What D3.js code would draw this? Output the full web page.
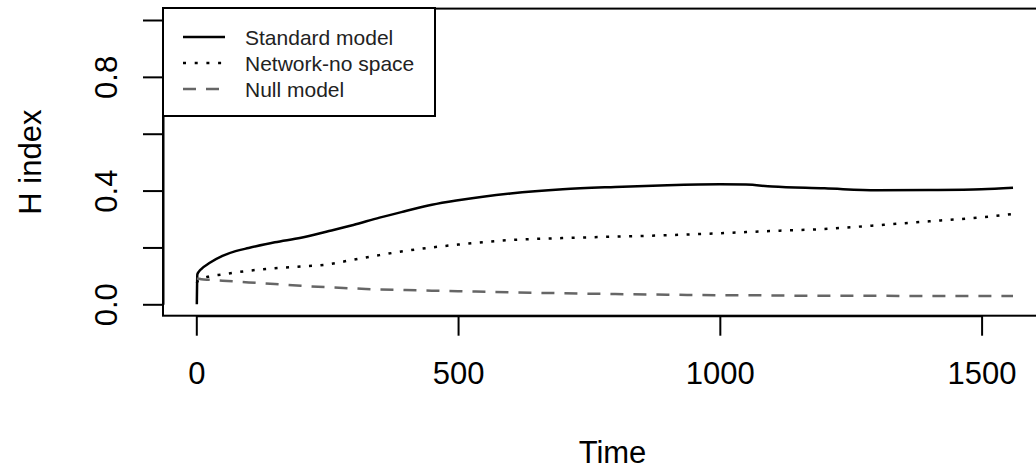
<!DOCTYPE html>
<html>
<head>
<meta charset="utf-8">
<script src="https://cdn.jsdelivr.net/npm/d3@7"></script>
<style>
    body { margin: 0; background: #fff; }
    #vis { width: 1036px; height: 475px; }
</style>
</head>
<body>
<div id="vis"></div>
<script>
// values
var time = [1, 2, 5, 10, 25, 50, 75, 100, 150, 200, 250, 300, 350, 400, 450, 500,
    600, 700, 800, 900, 1000, 1050, 1100, 1200, 1300, 1400, 1500, 1560];
var standard = [0.0, 0.105, 0.115, 0.125, 0.145, 0.170, 0.187, 0.198, 0.218, 0.234, 0.256, 0.279,
    0.305, 0.328, 0.350, 0.366, 0.390, 0.405, 0.413, 0.419, 0.422, 0.421, 0.414, 0.408, 0.401, 0.402, 0.405, 0.410];
var network = [0.075, 0.080, 0.085, 0.090, 0.098, 0.105, 0.112, 0.118, 0.127, 0.133, 0.140, 0.157,
    0.173, 0.188, 0.200, 0.210, 0.226, 0.233, 0.238, 0.243, 0.250, 0.254, 0.258, 0.265, 0.278, 0.292, 0.306, 0.318];
var nullModel = [0.090, 0.090, 0.090, 0.088, 0.086, 0.083, 0.080, 0.077, 0.071, 0.065, 0.060, 0.056,
    0.052, 0.050, 0.048, 0.046, 0.042, 0.039, 0.036, 0.034, 0.032, 0.032, 0.031, 0.030, 0.030, 0.029, 0.029, 0.029];

var seriesNames = ['Standard model', 'Network-no space', 'Null model'];
var xTicks = [0, 500, 1000, 1500];
var yTicks = [0, 0.2, 0.4, 0.6, 0.8, 1.0];
var yTickLabels = ['0.0', '', '0.4', '', '0.8', ''];

var width = document.getElementById('vis').clientWidth;
var height = document.getElementById('vis').clientHeight;

var font = 'Liberation Sans, Arial, Helvetica, sans-serif';

// plot box (right side runs past the picture)
var box = { left: 163, top: 8.6, right: 1062, bottom: 315.7 };

var svg = d3.select('#vis')
    .append('svg')
    .attr('width', width)
    .attr('height', height);

var x_scale = d3.scaleLinear()
    .domain([0, 1500])
    .range([196.3, 981.6]);

var y_scale = d3.scaleLinear()
    .domain([0, 1])
    .range([304.3, 20]);

var styles = [
    { color: '#000', dash: null, width: 2.5 },
    { color: '#000', dash: '3,8.5', width: 2.5 },
    { color: '#666', dash: '13,10', width: 2.5 }
];
var allSeries = [standard, network, nullModel];

var line = d3.line()
    .x(function(d, i) { return x_scale(time[i]); })
    .y(function(d) { return y_scale(d); })
    .curve(d3.curveMonotoneX);

svg.selectAll('.series')
    .data(allSeries)
    .enter()
    .append('path')
    .attr('class', 'series')
    .attr('d', line)
    .attr('fill', 'none')
    .attr('stroke', function(d, i) { return styles[i].color; })
    .attr('stroke-width', function(d, i) { return styles[i].width; })
    .attr('stroke-dasharray', function(d, i) { return styles[i].dash; });

// box
svg.append('rect')
    .attr('x', box.left)
    .attr('y', box.top)
    .attr('width', box.right - box.left)
    .attr('height', box.bottom - box.top)
    .attr('fill', 'none')
    .attr('stroke', '#000')
    .attr('stroke-width', 2);

// axes
var x_axis = d3.axisBottom(x_scale)
    .tickValues(xTicks)
    .tickSize(20)
    .tickSizeOuter(0)
    .tickPadding(26)
    .tickFormat(d3.format('d'));

var y_axis = d3.axisLeft(y_scale)
    .tickValues(yTicks)
    .tickSize(20)
    .tickSizeOuter(0)
    .tickFormat(function(d, i) { return yTickLabels[i]; });

var gx = svg.append('g')
    .attr('transform', 'translate(0,' + box.bottom + ')')
    .call(x_axis);

var gy = svg.append('g')
    .attr('transform', 'translate(' + box.left + ',0)')
    .call(y_axis);

[gx, gy].forEach(function(g) {
    g.attr('font-size', 31).attr('font-family', font);
    g.selectAll('line, path').attr('stroke', '#000').attr('stroke-width', 2);
    g.selectAll('text').attr('fill', '#000');
});

gy.selectAll('text')
    .attr('x', 0)
    .attr('y', -46)
    .attr('dy', 0)
    .attr('transform', 'rotate(-90)')
    .style('text-anchor', 'middle');

// axis titles
svg.append('text')
    .attr('x', (box.left + box.right) / 2)
    .attr('y', 463)
    .attr('text-anchor', 'middle')
    .attr('font-size', 31)
    .attr('font-family', font)
    .text('Time');

svg.append('text')
    .attr('transform', 'translate(41,' + (box.top + box.bottom) / 2 + ') rotate(-90)')
    .attr('text-anchor', 'middle')
    .attr('font-size', 31)
    .attr('font-family', font)
    .text('H index');

// legend
var legend = svg.append('g');

legend.append('rect')
    .attr('x', 163)
    .attr('y', 8)
    .attr('width', 272)
    .attr('height', 108)
    .attr('fill', '#fff')
    .attr('stroke', '#000')
    .attr('stroke-width', 2);

var rows = legend.selectAll('.row')
    .data(seriesNames)
    .enter()
    .append('g')
    .attr('class', 'row')
    .attr('transform', function(d, i) { return 'translate(0,' + (37 + i * 26) + ')'; });

rows.append('line')
    .attr('x1', 183)
    .attr('x2', 225)
    .attr('y1', 0)
    .attr('y2', 0)
    .attr('stroke', function(d, i) { return styles[i].color; })
    .attr('stroke-width', 2.5)
    .attr('stroke-dasharray', function(d, i) { return i === 1 ? '3,8.7' : styles[i].dash; });

rows.append('text')
    .attr('x', 245)
    .attr('y', 7.5)
    .attr('font-size', 21)
    .attr('font-family', font)
    .attr('fill', '#222')
    .text(function(d) { return d; });
</script>
</body>
</html>
